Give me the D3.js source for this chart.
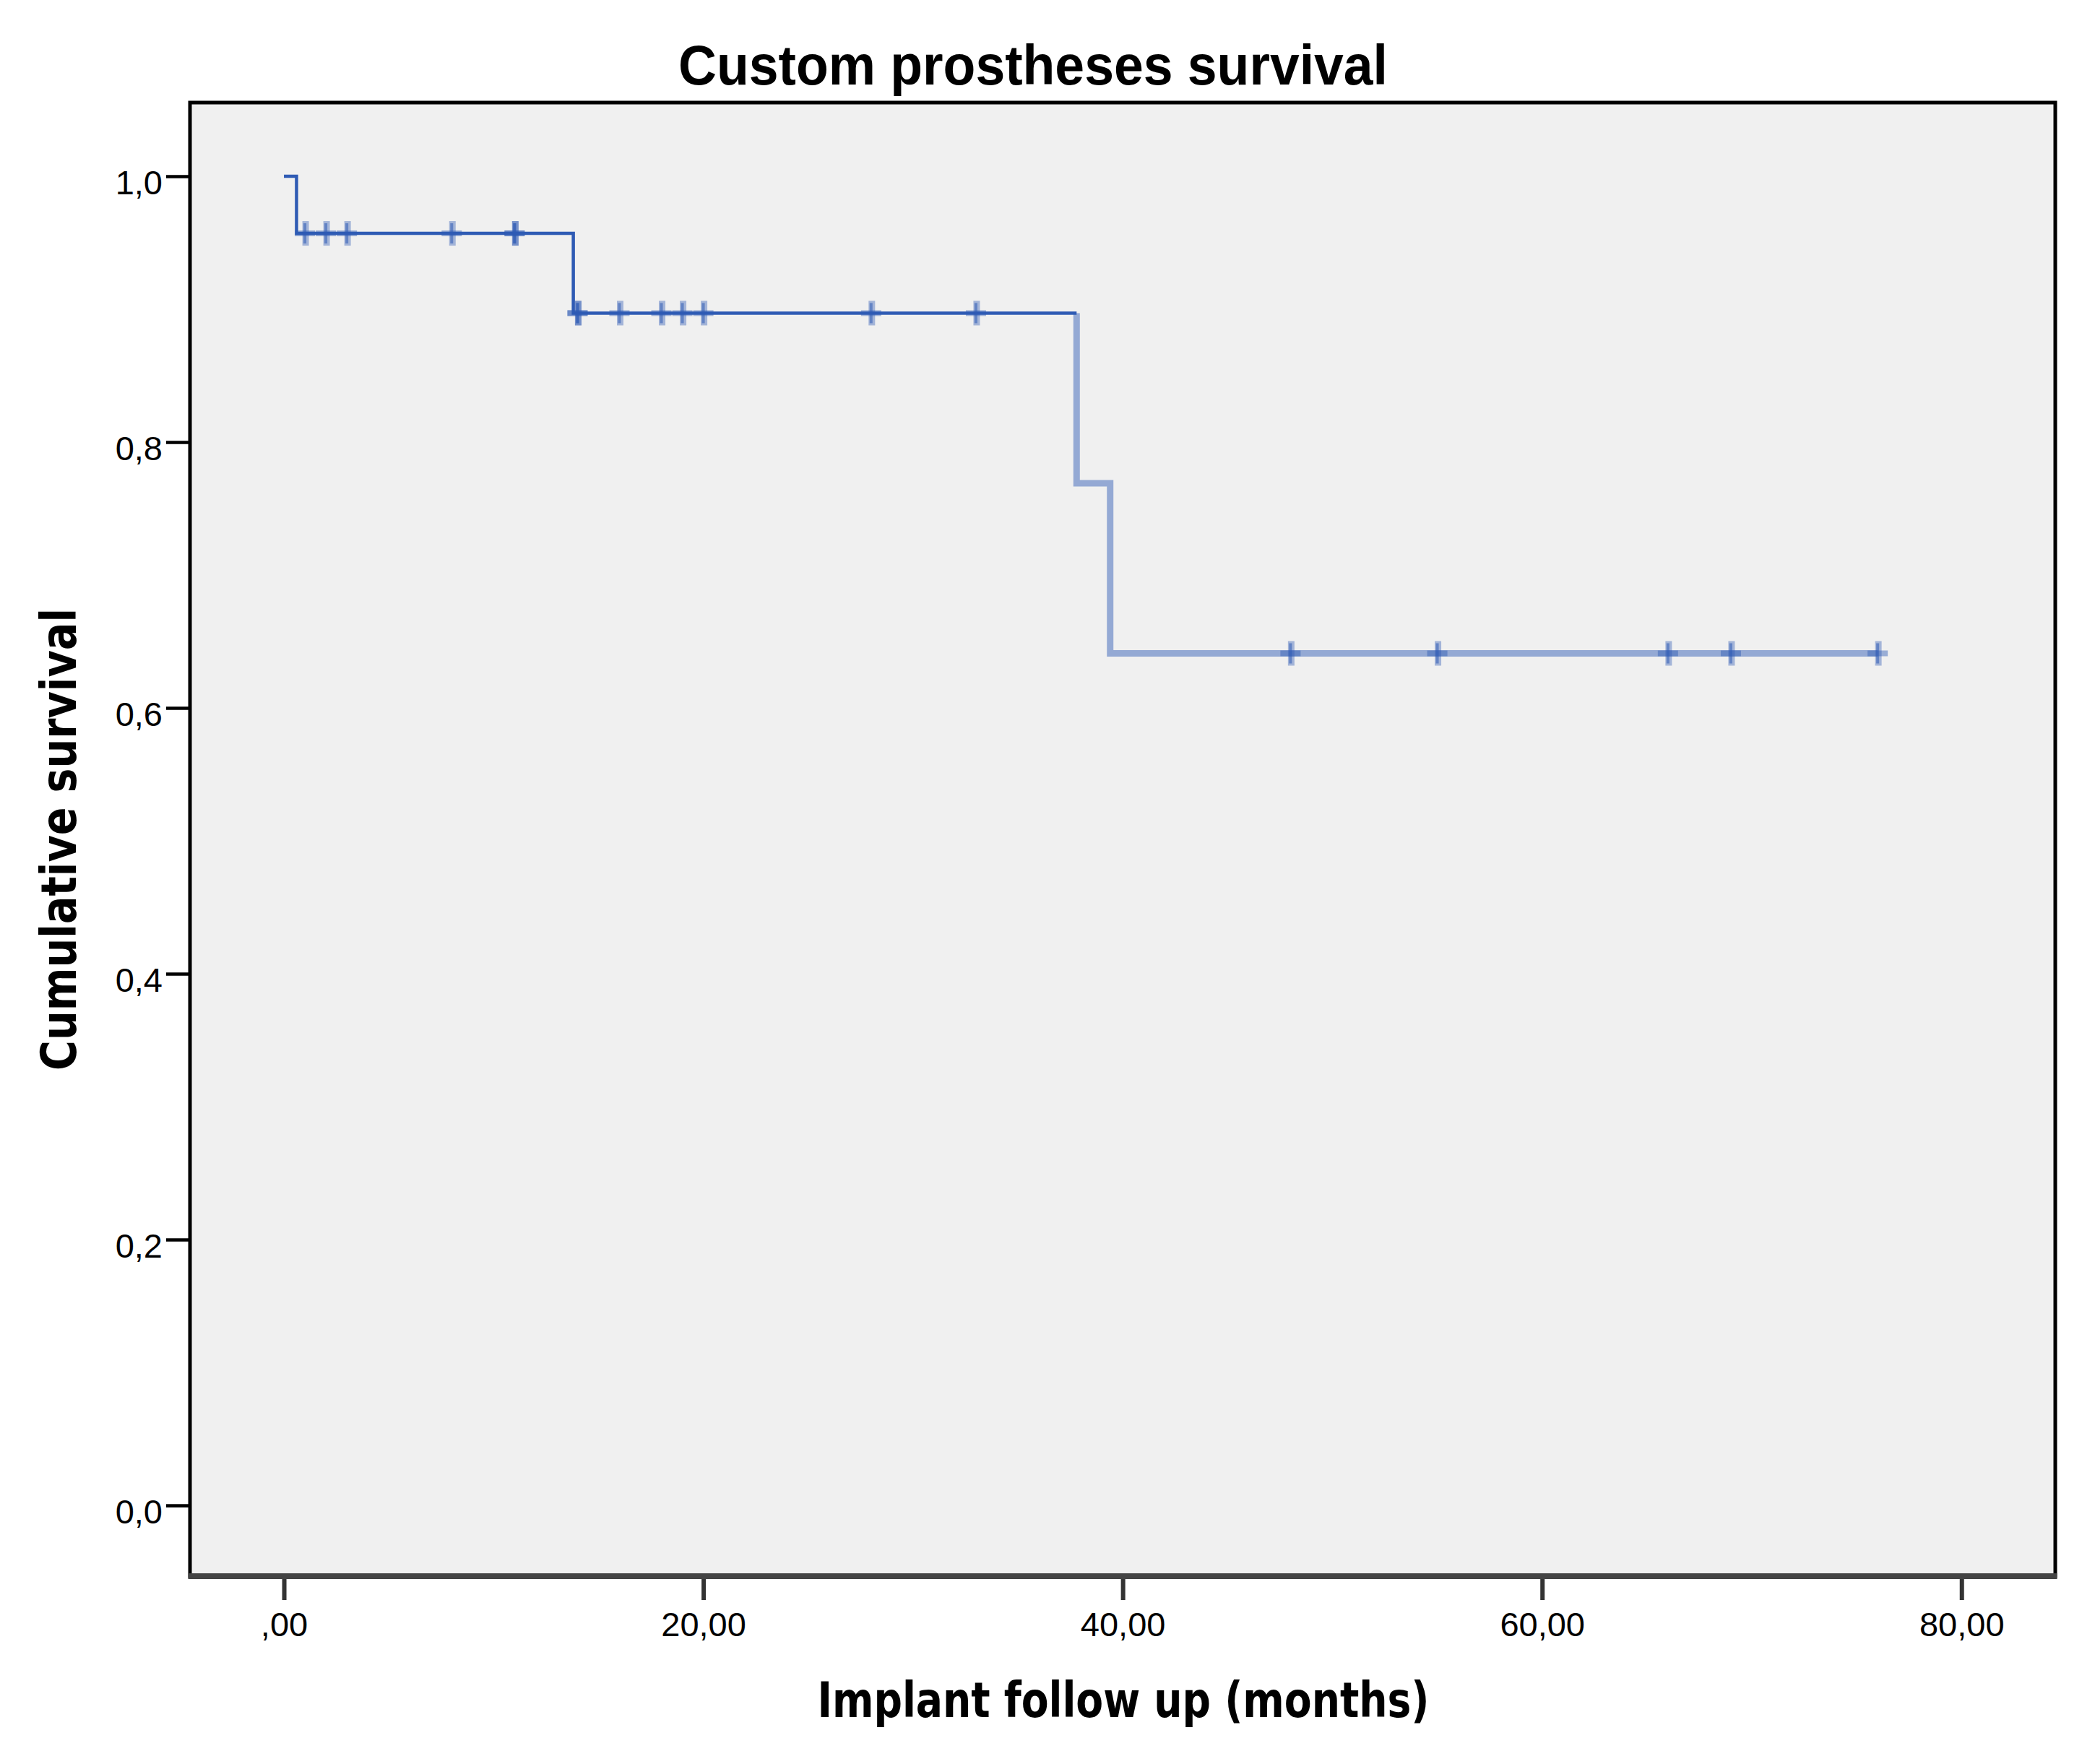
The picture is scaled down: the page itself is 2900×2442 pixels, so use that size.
<!DOCTYPE html>
<html>
<head>
<meta charset="utf-8">
<script src="https://cdn.jsdelivr.net/npm/d3@7"></script>
<style>
  body { margin: 0; background: #fff; }
  text { font-family: "Liberation Sans", Arial, sans-serif; }
</style>
</head>
<body>
<svg class="kmChart"></svg>
<script>
// Kaplan-Meier steps
var eventTimes = [0, 0.6, 13.8, 37.8, 39.4];
var survival = [1.0, 0.957, 0.897, 0.769, 0.641];
var lastFollowUp = 76;

// censored cases (11 and 14 appear twice)
var censorTimes = [1, 2, 3, 8, 11, 11, 14, 14, 16, 18, 19, 20, 28, 33, 48, 55, 66, 69, 76];

var xTickValues = [0, 20, 40, 60, 80];
var xTickLabels = [',00', '20,00', '40,00', '60,00', '80,00'];
var yTickValues = [0, 0.2, 0.4, 0.6, 0.8, 1.0];
var yTickLabels = ['0,0', '0,2', '0,4', '0,6', '0,8', '1,0'];

var title = 'Custom prostheses survival';
var xTitle = 'Implant follow up (months)';
var yTitle = 'Cumulative survival';

var W = 2900, H = 2442;
var plot = {left: 263, top: 142, right: 2845, bottom: 2182};

var x = d3.scaleLinear()
  .domain([-4.48, 84.47])
  .range([plot.left, plot.right]);

var y = d3.scaleLinear()
  .domain([-0.0533, 1.0554])
  .range([plot.bottom, plot.top]);

var svg = d3.select('.kmChart')
  .attr('width', W)
  .attr('height', H)
  .attr('viewBox', '0 0 ' + W + ' ' + H);

svg.append('rect')
  .attr('width', W).attr('height', H)
  .attr('fill', '#fff');

// plot area background
svg.append('rect')
  .attr('x', plot.left).attr('y', plot.top)
  .attr('width', plot.right - plot.left)
  .attr('height', plot.bottom - plot.top)
  .attr('fill', '#f0f0f0');

// axes
var xAxis = d3.axisBottom(x)
  .tickValues(xTickValues)
  .tickSize(33)
  .tickFormat(function(d, i) { return xTickLabels[i]; });

var yAxis = d3.axisLeft(y)
  .tickValues(yTickValues)
  .tickSize(33)
  .tickPadding(5)
  .tickFormat(function(d, i) { return yTickLabels[i]; });

var gx = svg.append('g')
  .attr('transform', 'translate(0,' + plot.bottom + ')')
  .call(xAxis);
gx.select('.domain').remove();
gx.selectAll('.tick line').attr('stroke', '#333').attr('stroke-width', 6);
gx.selectAll('.tick text')
  .attr('y', 83).attr('dy', 0)
  .attr('fill', '#000')
  .style('font-size', '47px');

var gy = svg.append('g')
  .attr('transform', 'translate(' + plot.left + ',0)')
  .call(yAxis);
gy.select('.domain').remove();
gy.selectAll('.tick line').attr('stroke', '#000').attr('stroke-width', 4.5);
gy.selectAll('.tick text')
  .attr('dy', 0).attr('y', 25)
  .attr('fill', '#000')
  .style('font-size', '47px');

// step coordinates built from the event arrays
var stepPts = [];
eventTimes.forEach(function(t, i) {
  if (i > 0) stepPts.push([t, survival[i - 1]]);
  stepPts.push([t, survival[i]]);
});
stepPts.push([lastFollowUp, survival[survival.length - 1]]);

var line = d3.line()
  .x(function(d) { return x(d[0]); })
  .y(function(d) { return y(d[1]); });

// SPSS draws the later part lighter and wider
var split = 5;
svg.append('path')
  .datum(stepPts.slice(split))
  .attr('d', line)
  .attr('fill', 'none')
  .attr('stroke', '#94a9d4')
  .attr('stroke-width', 9)
  .attr('stroke-linejoin', 'miter');

svg.append('path')
  .datum(stepPts.slice(0, split + 1))
  .attr('d', line)
  .attr('fill', 'none')
  .attr('stroke', '#2f5bb4')
  .attr('stroke-width', 4.5)
  .attr('stroke-linejoin', 'miter');

// censor marks
function survAt(t) {
  var s = survival[0];
  eventTimes.forEach(function(e, i) { if (e <= t) s = survival[i]; });
  return s;
}

var marks = svg.append('g')
  .attr('stroke', '#2f5bb4')
  .attr('fill', 'none');

// light halo of each mark
marks.selectAll('.cv')
  .data(censorTimes)
  .enter()
  .append('line')
  .attr('class', 'cv')
  .attr('x1', function(d) { return x(d) + 1; })
  .attr('x2', function(d) { return x(d) + 1; })
  .attr('y1', function(d) { return y(survAt(d)) - 17; })
  .attr('y2', function(d) { return y(survAt(d)) + 17; })
  .attr('stroke-opacity', 0.4)
  .attr('stroke-width', 9);

// darker core
marks.selectAll('.cc')
  .data(censorTimes)
  .enter()
  .append('line')
  .attr('class', 'cc')
  .attr('x1', function(d) { return x(d); })
  .attr('x2', function(d) { return x(d); })
  .attr('y1', function(d) { return y(survAt(d)) - 14; })
  .attr('y2', function(d) { return y(survAt(d)) + 14; })
  .attr('stroke-opacity', 0.55)
  .attr('stroke-width', 4);

marks.selectAll('.ch')
  .data(censorTimes)
  .enter()
  .append('line')
  .attr('class', 'ch')
  .attr('x1', function(d) { return x(d) - 14; })
  .attr('x2', function(d) { return x(d) + 14; })
  .attr('y1', function(d) { return y(survAt(d)); })
  .attr('y2', function(d) { return y(survAt(d)); })
  .attr('stroke-opacity', 0.45)
  .attr('stroke-width', 8);

// frame
svg.append('rect')
  .attr('x', plot.left).attr('y', plot.top)
  .attr('width', plot.right - plot.left)
  .attr('height', plot.bottom - plot.top)
  .attr('fill', 'none')
  .attr('stroke', '#000')
  .attr('stroke-width', 5);

svg.append('line')
  .attr('x1', plot.left - 2.5).attr('x2', plot.right + 2.5)
  .attr('y1', plot.bottom).attr('y2', plot.bottom)
  .attr('stroke', '#444')
  .attr('stroke-width', 8);

// titles
svg.append('text')
  .attr('x', 1430).attr('y', 117)
  .attr('text-anchor', 'middle')
  .attr('textLength', 982)
  .attr('lengthAdjust', 'spacingAndGlyphs')
  .style('font-family', '"Liberation Sans Narrow", "Liberation Sans", Arial, sans-serif')
  .style('font-weight', 'bold')
  .style('font-size', '78px')
  .text(title);

svg.append('text')
  .attr('x', 1555).attr('y', 2377)
  .attr('text-anchor', 'middle')
  .attr('textLength', 847)
  .attr('lengthAdjust', 'spacingAndGlyphs')
  .style('font-family', '"DejaVu Sans Condensed", "DejaVu Sans", sans-serif')
  .style('font-weight', 'bold')
  .style('font-size', '68px')
  .text(xTitle);

svg.append('text')
  .attr('transform', 'translate(105,1162) rotate(-90)')
  .attr('text-anchor', 'middle')
  .attr('textLength', 640)
  .attr('lengthAdjust', 'spacingAndGlyphs')
  .style('font-family', '"DejaVu Sans Condensed", "DejaVu Sans", sans-serif')
  .style('font-weight', 'bold')
  .style('font-size', '68px')
  .text(yTitle);
</script>
</body>
</html>
